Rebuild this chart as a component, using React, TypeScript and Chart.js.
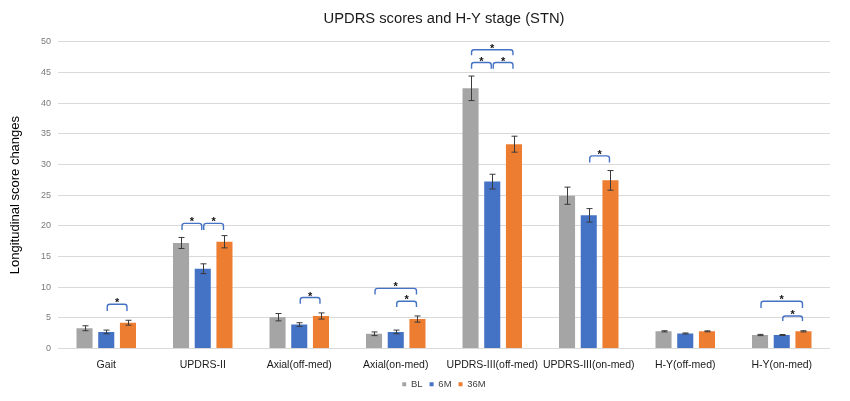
import React, { useEffect, useRef } from "react";
import { Chart, registerables } from "chart.js";

Chart.register(...registerables);

const categories = [
  "Gait",
  "UPDRS-II",
  "Axial(off-med)",
  "Axial(on-med)",
  "UPDRS-III(off-med)",
  "UPDRS-III(on-med)",
  "H-Y(off-med)",
  "H-Y(on-med)",
];

const seriesNames = ["BL", "6M", "36M"];
const blValues = [3.3, 17.2, 5.1, 2.4, 42.4, 24.9, 2.8, 2.2];
const m6Values = [2.7, 13.0, 3.9, 2.7, 27.2, 21.7, 2.45, 2.2];
const m36Values = [4.2, 17.4, 5.3, 4.8, 33.3, 27.4, 2.8, 2.8];

const blErrors = [0.4, 0.9, 0.6, 0.3, 2.0, 1.4, 0.1, 0.1];
const m6Errors = [0.3, 0.8, 0.3, 0.3, 1.2, 1.1, 0.08, 0.08];
const m36Errors = [0.4, 1.0, 0.5, 0.5, 1.3, 1.6, 0.08, 0.1];

const yTicks = [0, 5, 10, 15, 20, 25, 30, 35, 40, 45, 50];

// significance brackets: [category index, from series, to series, top value, leg value]
const brackets: [number, number, number, number, number][] = [
  [0, 1, 2, 7.2, 6.1],
  [1, 0, 1, 20.4, 19.3],
  [1, 1, 2, 20.4, 19.3],
  [2, 1, 2, 8.3, 7.3],
  [3, 0, 2, 9.8, 8.8],
  [3, 1, 2, 7.7, 6.75],
  [4, 0, 2, 48.7, 47.8],
  [4, 0, 1, 46.6, 45.6],
  [4, 1, 2, 46.6, 45.6],
  [5, 1, 2, 31.4, 30.3],
  [7, 0, 2, 7.7, 6.6],
  [7, 1, 2, 5.3, 4.5],
];

const colors = ["#A5A5A5", "#4472C4", "#ED7D31"];
const FONT = "'Liberation Sans', Arial, Helvetica, sans-serif";

const errorBarPlugin = {
  id: "errorBars",
  afterDatasetsDraw(chart: any) {
    const ctx = chart.ctx;
    const y = chart.scales.y;
    const errs = [blErrors, m6Errors, m36Errors];
    ctx.save();
    ctx.strokeStyle = "#3a3a3a";
    ctx.lineWidth = 1;
    chart.data.datasets.forEach((ds: any, di: number) => {
      const meta = chart.getDatasetMeta(di);
      meta.data.forEach((bar: any, i: number) => {
        const v = ds.data[i];
        const e = errs[di][i];
        const x = Math.round(bar.x) + 0.5;
        const y1 = y.getPixelForValue(v - e);
        const y2 = y.getPixelForValue(v + e);
        ctx.beginPath();
        ctx.moveTo(x, y1);
        ctx.lineTo(x, y2);
        ctx.moveTo(x - 3, y1);
        ctx.lineTo(x + 3, y1);
        ctx.moveTo(x - 3, y2);
        ctx.lineTo(x + 3, y2);
        ctx.stroke();
      });
    });
    ctx.restore();
  },
};

const bracketPlugin = {
  id: "brackets",
  afterDatasetsDraw(chart: any) {
    const ctx = chart.ctx;
    const y = chart.scales.y;
    ctx.save();
    brackets.forEach(([cat, a, b, top, leg]) => {
      const xa = chart.getDatasetMeta(a).data[cat].x + 1;
      const xb = chart.getDatasetMeta(b).data[cat].x - 1;
      const yt = y.getPixelForValue(top);
      const yl = y.getPixelForValue(leg);
      const r = 2.5;
      ctx.strokeStyle = "#4472C4";
      ctx.lineWidth = 1.4;
      ctx.beginPath();
      ctx.moveTo(xa, yl);
      ctx.arcTo(xa, yt, xa + r, yt, r);
      ctx.arcTo(xb, yt, xb, yt + r, r);
      ctx.lineTo(xb, yl);
      ctx.stroke();
      ctx.fillStyle = "#111";
      ctx.font = `bold 11px ${FONT}`;
      ctx.textAlign = "center";
      ctx.textBaseline = "alphabetic";
      ctx.fillText("*", (xa + xb) / 2, yt + 2);
    });
    ctx.restore();
  },
};

export default function App() {
  const ref = useRef<HTMLCanvasElement>(null);
  useEffect(() => {
    if (!ref.current) return;
    const values = [blValues, m6Values, m36Values];
    const chart = new Chart(ref.current, {
      type: "bar",
      data: {
        labels: categories,
        datasets: seriesNames.map((n, i) => ({
          label: n,
          data: values[i],
          backgroundColor: colors[i],
          borderWidth: 0,
          categoryPercentage: 0.675,
          barPercentage: 0.74,
        })),
      },
      options: {
        animation: false,
        responsive: false,
        devicePixelRatio: 1,
        layout: { padding: { left: 0, right: 20, top: 0, bottom: 2 } },
        plugins: {
          title: {
            display: true,
            fullSize: false,
            text: "UPDRS scores and H-Y stage (STN)",
            color: "#1a1a1a",
            font: { family: FONT, size: 14.75, weight: "normal" },
            padding: { top: 10, bottom: 14 },
          },
          legend: {
            position: "bottom",
            fullSize: false,
            labels: {
              boxWidth: 4,
              boxHeight: 4,
              padding: 7,
              color: "#404040",
              font: { family: FONT, size: 9.5 },
            },
          },
          tooltip: { enabled: false },
        },
        scales: {
          x: {
            grid: { display: false },
            border: { display: false },
            ticks: {
              color: "#1a1a1a",
              font: { family: FONT, size: 10.5 },
              padding: 2,
              maxRotation: 0,
              autoSkip: false,
            },
            afterFit: (s: any) => {
              s.height = 24;
            },
          },
          y: {
            min: 0,
            max: 50,
            afterBuildTicks: (s: any) => {
              s.ticks = yTicks.map((v) => ({ value: v }));
            },
            grid: { color: "#D9D9D9", lineWidth: 1, drawTicks: false },
            border: { display: false },
            ticks: {
              color: "#7a7a7a",
              font: { family: FONT, size: 9 },
              padding: 7,
            },
            title: {
              display: true,
              text: "Longitudinal score changes",
              color: "#000",
              font: { family: FONT, size: 13 },
              padding: { top: 8, bottom: 0 },
            },
            afterFit: (s: any) => {
              s.width = 58;
            },
          },
        },
      },
      plugins: [errorBarPlugin, bracketPlugin],
    });
    return () => chart.destroy();
  }, []);
  return (
    <div style={{ position: "fixed", left: 0, top: 0, width: 850, height: 401, background: "#fff" }}>
      <canvas ref={ref} width={850} height={401} style={{ width: 850, height: 401 }} />
    </div>
  );
}
